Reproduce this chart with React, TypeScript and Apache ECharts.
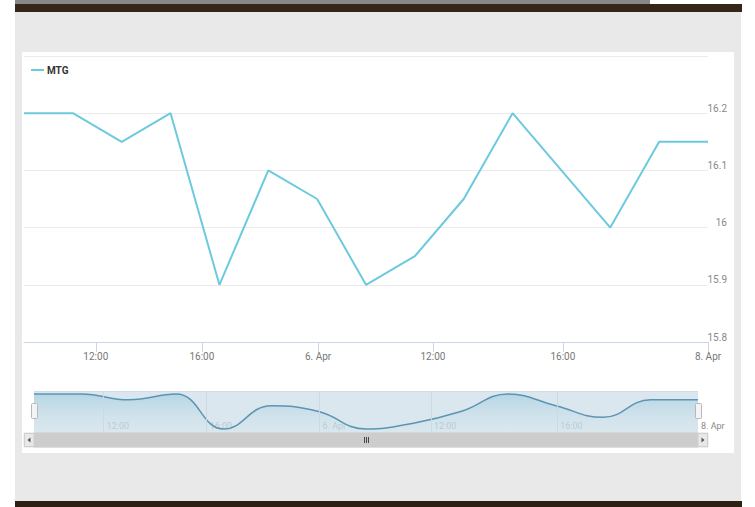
import React, { useEffect, useRef } from 'react';
import * as echarts from 'echarts';

const seriesName = 'MTG';
const values = [16.2, 16.2, 16.15, 16.2, 15.9, 16.1, 16.05, 15.9, 15.95, 16.05, 16.2, 16.1, 16.0, 16.15, 16.15];
const tickPositions = [1.47, 3.64, 6.02, 8.37, 11.03, 14];
const tickLabels = ['12:00', '16:00', '6. Apr', '12:00', '16:00', '8. Apr'];
const yMin = 15.8;
const yMax = 16.3;
const yStep = 0.1;

const FONT = "'Roboto', 'Liberation Sans', sans-serif";

function labelFor(val: number): string {
  const i = tickPositions.findIndex((p) => Math.abs(p - val) < 1e-6);
  return i >= 0 ? tickLabels[i] : '';
}

export default function App() {
  const ref = useRef<HTMLDivElement>(null);

  useEffect(() => {
    if (!ref.current) return;
    const chart = echarts.init(ref.current, undefined, { renderer: 'svg' });
    const data = values.map((v, i) => [i, v]);

    const sbTop = 433;
    const sbH = 14;
    const graphic: any[] = [
      { type: 'rect', shape: { x: 24, y: sbTop, width: 684, height: sbH }, style: { fill: '#f2f2f2', stroke: '#e0e0e0' }, z: 10 },
      { type: 'rect', shape: { x: 34, y: sbTop, width: 664, height: sbH }, style: { fill: '#cdcdcd', stroke: '#cdcdcd' }, z: 11 },
      { type: 'rect', shape: { x: 24.5, y: sbTop + 0.5, width: 9.5, height: sbH - 1 }, style: { fill: '#e8e8e8', stroke: '#cfcfcf' }, z: 12 },
      { type: 'rect', shape: { x: 698, y: sbTop + 0.5, width: 9.5, height: sbH - 1 }, style: { fill: '#e8e8e8', stroke: '#cfcfcf' }, z: 12 },
      { type: 'polygon', shape: { points: [[30.5, 437.5], [30.5, 442.5], [27.5, 440]] }, style: { fill: '#555' }, z: 13 },
      { type: 'polygon', shape: { points: [[701.5, 437.5], [701.5, 442.5], [704.5, 440]] }, style: { fill: '#555' }, z: 13 },
      { type: 'line', shape: { x1: 364.5, y1: 437, x2: 364.5, y2: 443 }, style: { stroke: '#444', lineWidth: 1 }, z: 13 },
      { type: 'line', shape: { x1: 366.5, y1: 437, x2: 366.5, y2: 443 }, style: { stroke: '#444', lineWidth: 1 }, z: 13 },
      { type: 'line', shape: { x1: 368.5, y1: 437, x2: 368.5, y2: 443 }, style: { stroke: '#444', lineWidth: 1 }, z: 13 },
      { type: 'line', shape: { x1: 34, y1: 391.5, x2: 698, y2: 391.5 }, style: { stroke: '#d3dde3', lineWidth: 1 }, z: 13 },
      { type: 'rect', shape: { x: 31.5, y: 403.5, width: 6, height: 15, r: 1 }, style: { fill: '#f4f4f4', stroke: '#b8b8b8' }, z: 14 },
      { type: 'rect', shape: { x: 695.5, y: 403.5, width: 6, height: 15, r: 1 }, style: { fill: '#f4f4f4', stroke: '#b8b8b8' }, z: 14 },
    ];

    chart.setOption({
      animation: false,
      textStyle: { fontFamily: FONT },
      legend: {
        left: 31,
        top: 65,
        padding: 0,
        icon: 'rect',
        itemWidth: 13,
        itemHeight: 2,
        itemGap: 10,
        textStyle: { fontFamily: FONT, fontWeight: 'bold', fontSize: 10, color: '#333', padding: [0, 0, 0, -2] },
        data: [seriesName],
      },
      grid: [
        { left: 24, top: 56, width: 684, height: 286 },
        { left: 34, top: 391, width: 664, height: 42, show: true, backgroundColor: '#dbe7ee', borderWidth: 0 },
      ],
      xAxis: [
        {
          type: 'value',
          gridIndex: 0,
          min: 0,
          max: 14,
          axisLine: { show: true, lineStyle: { color: '#ccd6eb', width: 1 } },
          axisTick: { show: true, length: 10, customValues: tickPositions, lineStyle: { color: '#ccd6eb' } },
          axisLabel: {
            customValues: tickPositions,
            formatter: (v: number) => labelFor(v),
            color: '#777',
            fontSize: 10,
            fontFamily: FONT,
            margin: 9,
          },
          splitLine: { show: false },
        },
        {
          type: 'value',
          gridIndex: 1,
          min: 0,
          max: 14,
          axisLine: { show: false },
          axisTick: { show: false },
          axisLabel: {
            customValues: tickPositions,
            formatter: (v: number) => labelFor(v),
            inside: true,
            align: 'left',
            verticalAlign: 'bottom',
            margin: 3,
            padding: [0, 0, 0, 3],
            fontSize: 9,
            fontFamily: FONT,
            color: (v: number) => (Math.abs(v - 14) < 1e-6 ? '#888' : 'rgba(170,185,195,0.7)'),
          },
          splitLine: { show: false },
        },
      ],
      yAxis: [
        {
          type: 'value',
          gridIndex: 0,
          position: 'right',
          min: yMin,
          max: yMax,
          interval: yStep,
          axisLine: { show: false },
          axisTick: { show: false },
          axisLabel: {
            showMaxLabel: false,
            align: 'right',
            verticalAlign: 'bottom',
            margin: 19,
            color: '#888',
            fontSize: 10,
            fontFamily: FONT,
          },
          splitLine: { show: true, lineStyle: { color: '#ebebeb', width: 1 } },
        },
        {
          type: 'value',
          gridIndex: 1,
          min: 15.866,
          max: 16.226,
          show: false,
          splitLine: { show: false },
        },
      ],
      series: [
        {
          name: seriesName,
          type: 'line',
          xAxisIndex: 0,
          yAxisIndex: 0,
          data,
          showSymbol: false,
          symbol: 'none',
          color: '#6ccade',
          lineStyle: { color: '#6ccade', width: 2 },
        },
        {
          name: seriesName + ' navigator',
          type: 'line',
          xAxisIndex: 1,
          yAxisIndex: 1,
          data,
          smooth: 0.45,
          showSymbol: false,
          symbol: 'none',
          lineStyle: { color: '#5b95b3', width: 1.5 },
          areaStyle: {
            origin: 'start',
            color: new echarts.graphic.LinearGradient(0, 0, 0, 1, [
              { offset: 0, color: 'rgba(120,185,215,0.55)' },
              { offset: 1, color: 'rgba(200,225,235,0.1)' },
            ]),
          },
          markLine: {
            silent: true,
            symbol: ['none', 'none'],
            label: { show: false },
            lineStyle: { color: 'rgba(205,215,222,0.9)', width: 1, type: 'solid' },
            data: tickPositions.slice(0, 5).map((p) => ({ xAxis: p })),
          },
          z: 1,
        },
      ],
      graphic,
    });

    return () => chart.dispose();
  }, []);

  return (
    <div style={{ position: 'fixed', left: 0, top: 0, width: 755, height: 507, background: '#ffffff', overflow: 'hidden' }}>
      <div style={{ position: 'absolute', left: 15, top: 0, width: 635, height: 4, background: '#8a8886' }} />
      <div style={{ position: 'absolute', left: 15, top: 4, width: 727, height: 8, background: '#35261a' }} />
      <div style={{ position: 'absolute', left: 15, top: 12, width: 726, height: 489, background: '#e9e9e9' }} />
      <div style={{ position: 'absolute', left: 15, top: 501, width: 727, height: 6, background: '#2e2013' }} />
      <div style={{ position: 'absolute', left: 22, top: 52, width: 712, height: 401, background: '#ffffff' }} />
      <div ref={ref} style={{ position: 'absolute', left: 0, top: 0, width: 755, height: 507 }} />
    </div>
  );
}
